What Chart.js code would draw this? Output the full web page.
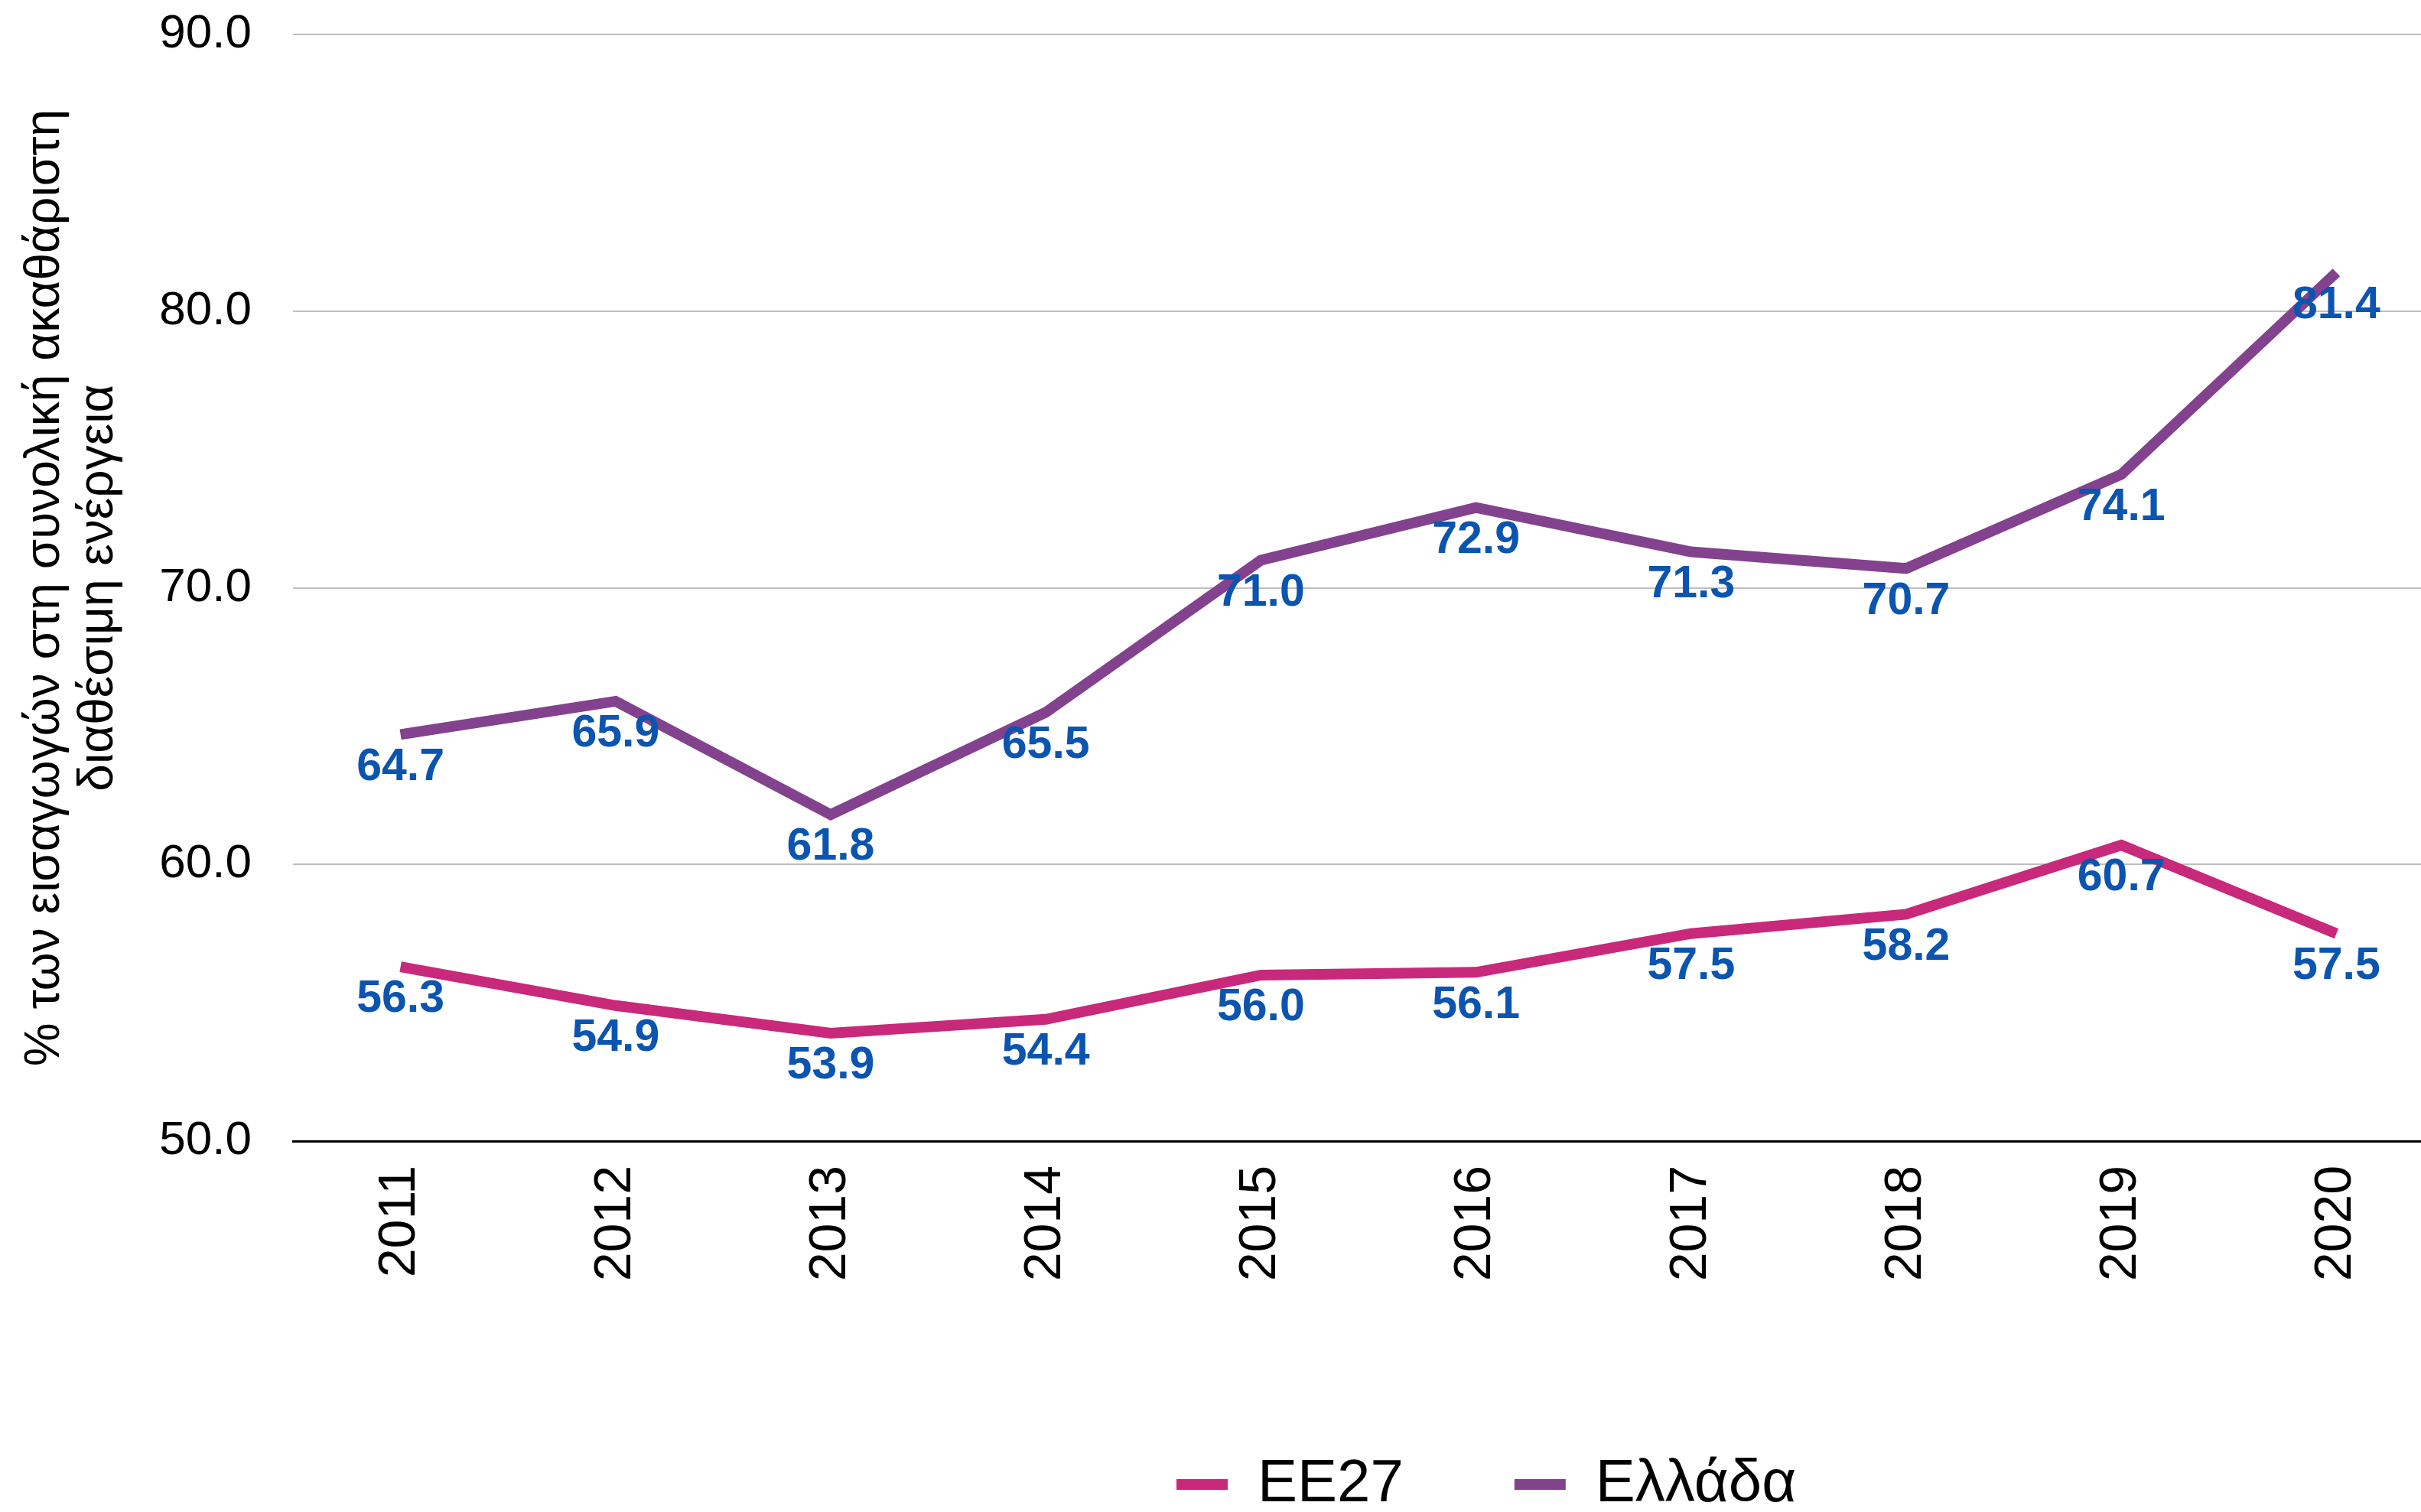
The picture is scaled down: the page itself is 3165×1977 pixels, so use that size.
<!DOCTYPE html>
<html>
<head>
<meta charset="utf-8">
<script src="https://cdn.jsdelivr.net/npm/chart.js@4/dist/chart.umd.min.js"></script>
<style>
  html, body { margin: 0; padding: 0; background: #fff; overflow: hidden; }
  canvas { display: block; }
</style>
</head>
<body>
<canvas id="importChart" width="3195" height="1990"></canvas>
<script>
const years = ["2011", "2012", "2013", "2014", "2015", "2016", "2017", "2018", "2019", "2020"];
const eu27 = [56.3, 54.9, 53.9, 54.4, 56.0, 56.1, 57.5, 58.2, 60.7, 57.5];
const greece = [64.7, 65.9, 61.8, 65.5, 71.0, 72.9, 71.3, 70.7, 74.1, 81.4];
const seriesNames = ["ΕΕ27", "Ελλάδα"];
const yTitle = ["% των εισαγωγών στη συνολική ακαθάριστη", "διαθέσιμη ενέργεια"];

const FONT = "'Liberation Sans', Arial, Helvetica, sans-serif";

// value labels under each point
const valueLabels = {
  id: "valueLabels",
  afterDatasetsDraw(chart) {
    const ctx = chart.ctx;
    ctx.save();
    ctx.font = "bold 59px " + FONT;
    ctx.fillStyle = "#0B55B0";
    ctx.textAlign = "center";
    ctx.textBaseline = "middle";
    chart.data.datasets.forEach((ds, i) => {
      chart.getDatasetMeta(i).data.forEach((pt, j) => {
        ctx.fillText(ds.data[j].toFixed(1), pt.x, pt.y + 43);
      });
    });
    ctx.restore();
  },
};

// legend sits right of centre in the original
const legendShift = {
  id: "legendShift",
  afterLayout(chart) {
    const lg = chart.legend;
    const w = lg.width;
    lg.left = 1538 - lg.options.labels.padding;
    lg.right = lg.left + w;
  },
};

const ctx = document.getElementById("importChart").getContext("2d");

const chart = new Chart(ctx, {
  type: "line",
  data: {
    labels: years,
    datasets: [
      {
        label: seriesNames[0],
        data: eu27,
        borderColor: "#C9297A",
        backgroundColor: "#C9297A",
        borderWidth: 14,
        pointRadius: 0,
        tension: 0,
      },
      {
        label: seriesNames[1],
        data: greece,
        borderColor: "#83428E",
        backgroundColor: "#83428E",
        borderWidth: 14,
        pointRadius: 0,
        tension: 0,
      },
    ],
  },
  options: {
    responsive: false,
    animation: false,
    devicePixelRatio: 1,
    layout: { padding: { top: 0, left: 0, right: 0, bottom: 0 } },
    plugins: {
      tooltip: { enabled: false },
      legend: {
        position: "bottom",
        align: "start",
        labels: {
          font: { family: FONT, size: 78 },
          color: "#000",
          boxWidth: 67,
          boxHeight: 14,
          padding: 145,
          generateLabels: (c) =>
            Chart.defaults.plugins.legend.labels.generateLabels(c).map((l) => ({ ...l, lineWidth: 0 })),
        },
      },
    },
    scales: {
      x: {
        offset: true,
        grid: { display: false, drawTicks: false },
        border: { display: true, color: "#000", width: 3 },
        ticks: {
          font: { family: FONT, size: 68 },
          color: "#000",
          minRotation: 90,
          maxRotation: 90,
          autoSkip: false,
          padding: 32,
        },
        afterFit: (scale) => { scale.height = 265; },
      },
      y: {
        min: 50,
        max: 90,
        grid: { color: "#BFBFBF", lineWidth: 2, drawTicks: true, tickLength: 46, tickColor: "rgba(0,0,0,0)" },
        border: { display: false },
        ticks: {
          stepSize: 10,
          font: { family: FONT, size: 62 },
          color: "#000",
          padding: 8,
          callback: (v) => v.toFixed(1),
        },
        title: {
          display: true,
          text: yTitle,
          font: { family: FONT, size: 64, lineHeight: 1.1 },
          color: "#000",
          padding: { top: 24, bottom: 0 },
        },
        afterFit: (scale) => { scale.width = 383; },
      },
    },
  },
  plugins: [valueLabels, legendShift],
});
</script>
</body>
</html>
